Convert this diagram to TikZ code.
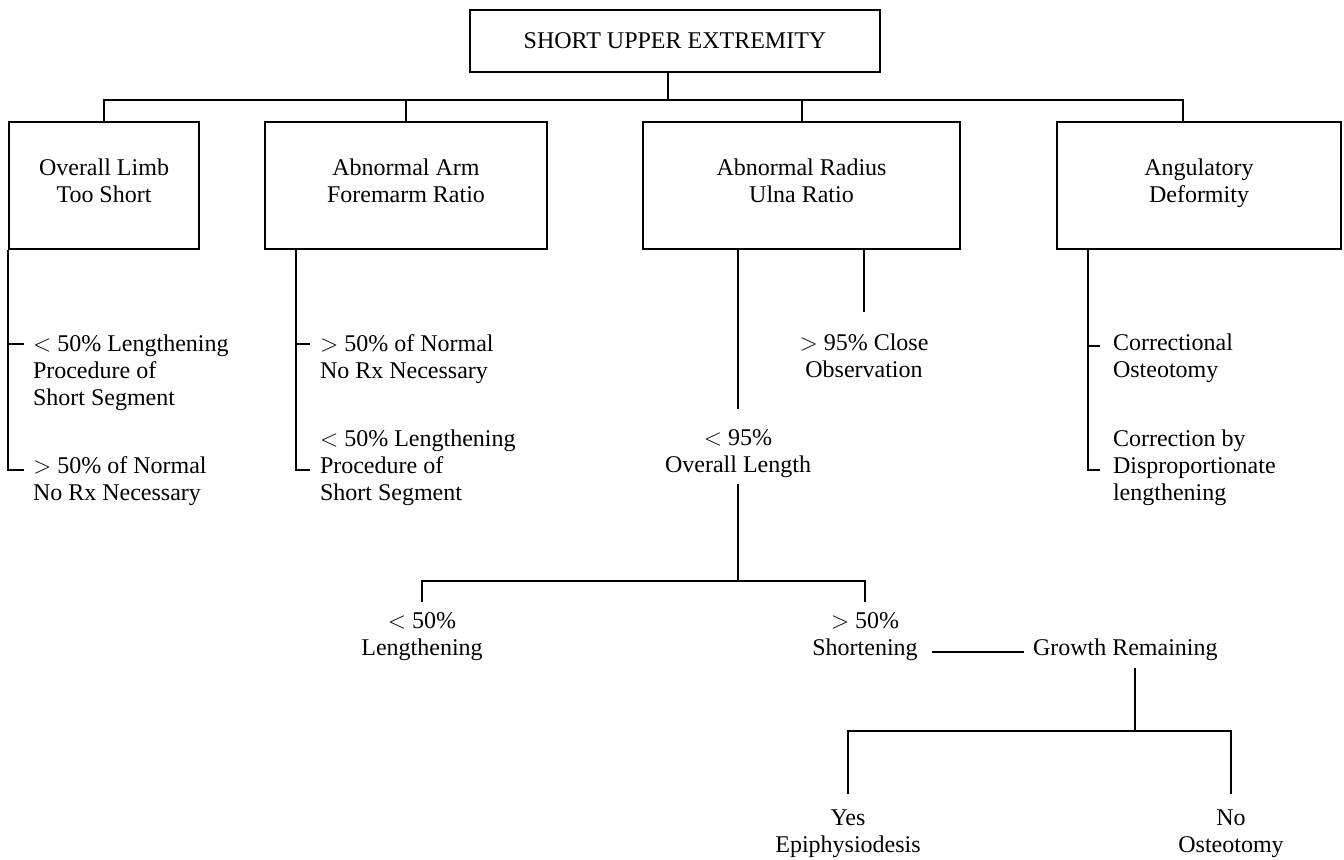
\documentclass[tikz,border=0pt]{standalone}
\usepackage{fontspec}
\setmainfont{Liberation Serif}
\begin{document}
\begin{tikzpicture}[x=0.5pt,y=-0.5pt,line width=1pt,
    box/.style={draw,line width=1pt,align=center,inner sep=0pt,
        font=\fontsize{12}{13.5}\selectfont},
    branch/.style={box,minimum height=63.5pt,execute at end node={\rule[-4.5pt]{0pt}{0pt}}},
    note/.style={align=left,inner sep=0pt,font=\fontsize{12}{13.5}\selectfont}]
    \useasboundingbox (0,0) rectangle (1344,859);
    \node[box,minimum width=205pt,minimum height=31pt] (top) at (675,41) {SHORT UPPER EXTREMITY};
    \begin{scope}[every node/.style={branch}]
        \node[minimum width=95pt] (limb) at (104,185.5) {Overall Limb\\Too Short};
        \node[minimum width=141pt] (arm) at (406,185.5) {Abnormal Arm\\Foremarm Ratio};
        \node[minimum width=158.5pt] (radius) at (801.5,185.5) {Abnormal Radius\\Ulna Ratio};
        \node[minimum width=142pt] (angle) at (1199,185.5) {Angulatory\\Deformity};
    \end{scope}
    \begin{scope}[every node/.style={note,anchor=north west}]
        \node (lim1) at (32,334) {$<$ 50\% Lengthening\\Procedure of\\Short Segment};
        \node (lim2) at (32,456) {$>$ 50\% of Normal\\No Rx Necessary};
        \node (arm1) at (319,334) {$>$ 50\% of Normal\\No Rx Necessary};
        \node (arm2) at (319,429) {$<$ 50\% Lengthening\\Procedure of\\Short Segment};
        \node (ang1) at (1112,333) {Correctional\\Osteotomy};
        \node (ang2) at (1112,429) {Correction by\\Disproportionate\\lengthening};
    \end{scope}
    \begin{scope}[every node/.style={note,align=center,anchor=north}]
        \node (obs) at (864,333) {$>$ 95\% Close\\Observation};
        \node (less95) at (738,429) {$<$ 95\%\\Overall Length};
        \node (len) at (422,612) {$<$ 50\%\\Lengthening};
        \node (short) at (865,612) {$>$ 50\%\\Shortening};
        \node (yes) at (848,809) {Yes\\Epiphysiodesis};
        \node (no) at (1231,809) {No\\Osteotomy};
    \end{scope}
    \node[note,anchor=base west] (grow) at (1032,655) {Growth Remaining};
    \coordinate (hub) at (668,100);
    \coordinate (angdrop) at (1183,122);
    \coordinate (limk1) at (24,344);
    \coordinate (limk2) at (24,470);
    \coordinate (armv) at (296,0);
    \coordinate (armk1) at (310,344);
    \coordinate (armk2) at (310,470);
    \coordinate (angv) at (1088,0);
    \coordinate (angk1) at (1100,346);
    \coordinate (angk2) at (1100,470);
    \coordinate (lowhub) at (740,581);
    \coordinate (growhub) at (1135,731);
    \draw (top.south -| hub) -- (hub);
    \draw (limb.north) |- (angdrop |- hub) -- (angdrop);
    \draw (arm.north) -- (arm.north |- hub);
    \draw (radius.north) -- (radius.north |- hub);
    \draw (limb.south west) |- (limk2);
    \draw (limb.south west |- limk1) -- (limk1);
    \draw (armv |- arm.south) |- (armk2);
    \draw (armv |- armk1) -- (armk1);
    \draw (angv |- angle.south) |- (angk2);
    \draw (angv |- angk1) -- (angk1);
    \draw[shorten >=10.5pt] (obs.north |- radius.south) -- (obs.north);
    \draw[shorten >=10pt] (less95.north |- radius.south) -- (less95.north);
    \draw[shorten <=2.5pt] (less95.south) -- (less95.south |- lowhub);
    \draw[shorten <=5pt,shorten >=5pt] (len.north) |- (lowhub) -| (short.north);
    \draw[shorten <=6.5pt,shorten >=4pt] ([yshift=1.5pt]short.east |- grow.base) -- ([yshift=1.5pt]grow.base west);
    \draw[shorten <=3.5pt] (growhub |- grow.south) -- (growhub);
    \draw[shorten <=7.5pt,shorten >=7.5pt] (yes.north) |- (growhub) -| (no.north);
\end{tikzpicture}
\end{document}
